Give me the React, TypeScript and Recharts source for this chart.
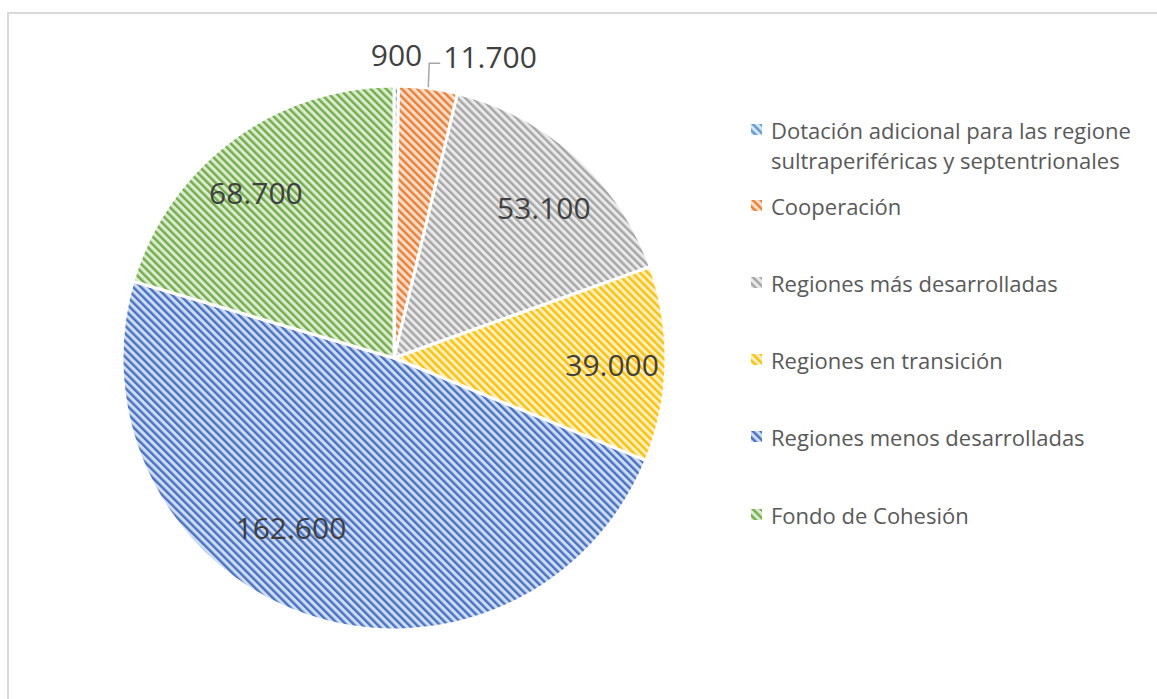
import { PieChart, Pie, Cell, Legend } from "recharts";

const categories = [
  "Dotación adicional para las regione\nsultraperiféricas y septentrionales",
  "Cooperación",
  "Regiones más desarrolladas",
  "Regiones en transición",
  "Regiones menos desarrolladas",
  "Fondo de Cohesión",
];
const values = [900, 11700, 53100, 39000, 162600, 68700];

const STRIPE = ["#5B9BD5", "#ED7D31", "#A5A5A5", "#FFC000", "#4472C4", "#70AD47"];
const TINT = ["#D6E5F4", "#FBDFCC", "#E9E9E9", "#FFF0C6", "#D0DBF1", "#DBEAD0"];

// nudges for the inside labels (Excel "best fit" isn't on the mid ray)
const NUDGE: Record<number, [number, number]> = {
  2: [8, 7],
  3: [6, 2],
  4: [-33, -31],
  5: [-11, 4],
};

const data = categories.map((name, i) => ({ name, value: values[i] }));

const fmt = (v: number) => String(v).replace(/\B(?=(\d{3})+(?!\d))/g, ".");
const RAD = Math.PI / 180;

function renderLabel(p: any) {
  const { cx, cy, midAngle, outerRadius, index, value } = p;
  const cos = Math.cos(-midAngle * RAD);
  const sin = Math.sin(-midAngle * RAD);
  const style = { fontFamily: "'Open Sans', sans-serif", fontSize: 30, fill: "#404040" };
  if (value < 20000) {
    if (index === 0) {
      const r = outerRadius * 1.115;
      return (
        <text x={cx + r * cos} y={cy + r * sin} textAnchor="middle" dominantBaseline="central" style={style}>
          {fmt(value)}
        </text>
      );
    }
    const ex = cx + outerRadius * cos;
    const ey = cy + outerRadius * sin;
    return (
      <g>
        <polyline points={`${ex},${ey - 1} ${ex + 1},${ey - 25} ${ex + 12},${ey - 25}`} fill="none" stroke="#a6a6a6" strokeWidth={1.5} />
        <text x={ex + 15} y={ey - 32} textAnchor="start" dominantBaseline="central" style={style}>
          {fmt(value)}
        </text>
      </g>
    );
  }
  const r = outerRadius * 0.78;
  const [dx, dy] = NUDGE[index] || [0, 0];
  return (
    <text x={cx + r * cos + dx} y={cy + r * sin + dy} textAnchor="middle" dominantBaseline="central" style={style}>
      {fmt(value)}
    </text>
  );
}

const LEGEND_TOP = [145, 206, 283, 360, 437, 515];

function LegendBox() {
  return (
    <div style={{ position: "relative", width: 1157, height: 699 }}>
      {data.map((d, i) => {
        const lines = d.name.split("\n");
        return (
          <div key={i} style={{ position: "absolute", left: 751, top: LEGEND_TOP[i] - 15 * lines.length, display: "flex" }}>
            <svg width={12} height={12} style={{ marginTop: 9, marginRight: 8, flex: "none" }}>
              <rect x={0} y={0} width={11} height={11} fill={`url(#pat${i})`} />
            </svg>
            <div style={{ fontFamily: "'Open Sans', sans-serif", fontSize: 22, lineHeight: "30px", color: "#595959", whiteSpace: "pre-line" }}>
              {d.name}
            </div>
          </div>
        );
      })}
    </div>
  );
}

export default function App() {
  return (
    <div style={{ position: "absolute", left: 0, top: 0, width: 1157, height: 699, overflow: "hidden", background: "#fff" }}>
      <div style={{ position: "absolute", left: 7, top: 12, width: 1300, height: 900, border: "2px solid #d9d9d9" }} />
      <div style={{ position: "absolute", left: 0, top: 0 }}>
        <PieChart width={1157} height={699} margin={{ top: 0, right: 0, bottom: 0, left: 0 }}>
          <defs>
            {STRIPE.map((c, i) => (
              <pattern key={i} id={`pat${i}`} width={5.5} height={5.5} patternUnits="userSpaceOnUse" patternTransform="rotate(-45)">
                <rect x={0} y={0} width={5.5} height={5.5} fill={TINT[i]} />
                <rect x={0} y={0} width={2.4} height={5.5} fill={c} />
              </pattern>
            ))}
          </defs>
          <Pie
            data={data}
            dataKey="value"
            nameKey="name"
            cx={394}
            cy={358}
            outerRadius={272}
            startAngle={90}
            endAngle={-270}
            stroke="#fff"
            strokeWidth={3}
            label={renderLabel}
            labelLine={false}
            isAnimationActive={false}
          >
            {data.map((_, i) => (
              <Cell key={i} fill={`url(#pat${i})`} />
            ))}
          </Pie>
          <Legend content={() => <LegendBox />} wrapperStyle={{ left: 0, top: 0, width: 1157, height: 699 }} />
        </PieChart>
      </div>
    </div>
  );
}
